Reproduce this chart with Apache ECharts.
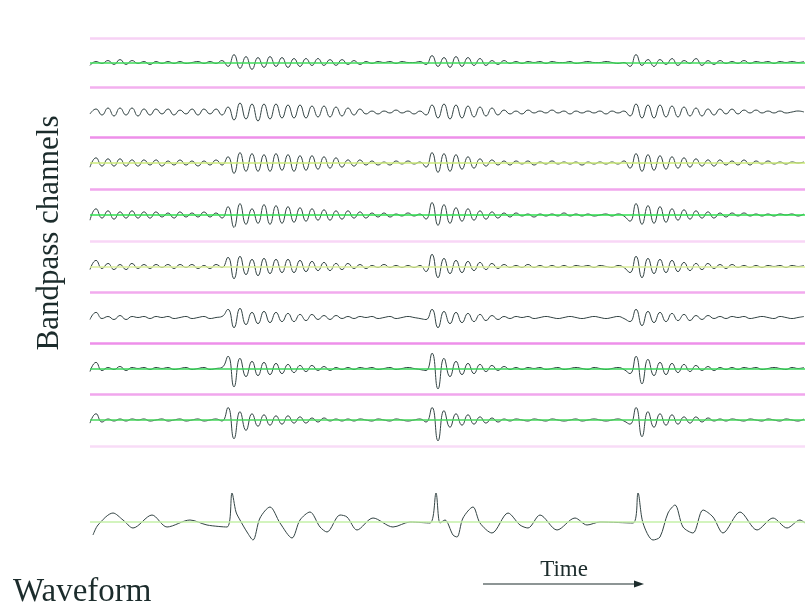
<!DOCTYPE html>
<html><head><meta charset="utf-8">
<script src="https://cdn.jsdelivr.net/npm/echarts@6/dist/echarts.min.js"></script>
<style>html,body{margin:0;padding:0;background:#fff}#c{width:810px;height:615px}</style>
</head><body><div id="c"></div>
<script>
// ---- DATA (amplitudes; channel samples every 1.2 ms) ----
const SAMPLE_MS = 1.2;
const TIME_END_MS = 143;
const ch1 = [-3,1,-1,2,-2,3,-2,2,-1,1,-2,1,-1,1,-1,1,-1,0,1,-1,1,-1,2,
  -4,8,-6,6,-7,5,-5,6,-4,5,-5,4,-4,
  4,-3,4,-3,3,-3,3,-2,2,-2,
  1,-1,1,0,1,-1,1,0,0,1,
  -2,7,-4,5,-5,6,-4,5,-3,4,-3,2,-2,
  2,-1,1,-1,1,0,1,-1,1,0,0,1,-1,0,1,0,0,1,0,-1,0,
  -4,8,-3,3,-4,3,-2,4,-3,2,-1,4,-3,2,-2,2,
  -1,1,-1,2,-1,1,0,1,-1,1,0,1,0,1];
const ch2 = [-2,3,-3,4,-4,4,-3,4,-4,3,-3,3,-2,3,-3,2,-2,3,-3,3,-2,3,-3,
  5,-8,9,-7,8,-9,8,-7,8,-6,7,-6,7,
  -6,6,-5,6,-5,5,-4,4,-3,3,
  -2,1,-2,1,-1,2,-1,1,-2,1,
  -3,7,-6,8,-7,7,-6,6,-5,5,-4,4,-3,
  2,-2,1,-2,2,-1,1,-1,2,-1,1,-2,1,-1,1,-1,1,-2,1,-1,1,
  -4,8,-6,7,-6,7,-5,6,-5,5,-4,4,-4,3,-3,3,
  -2,3,-2,2,-1,2,-1,1,-1,1,-1,0,1,0];
const ch3 = [-4,5,-3,4,-3,4,-3,3,-3,3,-2,3,-3,2,-2,3,-2,2,-3,2,-2,3,-2,
  6,-10,10,-8,9,-8,8,-8,9,-7,8,-8,7,
  -7,7,-6,6,-5,5,-4,3,-3,3,
  -2,2,-2,1,-2,2,-1,2,-1,1,
  -4,10,-9,9,-8,8,-6,6,-5,4,-3,3,-2,
  2,-2,2,-1,2,-2,1,-1,2,-1,1,-1,1,-2,1,-1,1,-1,1,-1,2,
  -5,9,-8,8,-7,7,-6,6,-5,5,-4,4,-3,3,-3,3,
  -2,2,-2,3,-2,2,-1,2,-1,1,-1,1,0,1];
const ch4 = [-5,6,-3,4,-4,3,-3,4,-3,3,-3,3,-2,2,-3,3,-2,2,-2,3,-2,2,-3,
  8,-12,11,-9,6,-8,10,-9,9,-8,8,-7,7,
  -6,6,-5,5,-5,4,-4,4,-3,3,
  -3,2,-2,2,-2,1,-1,2,-1,1,
  -4,12,-10,10,-8,7,-6,6,-5,4,-4,3,-3,
  2,-2,2,-1,1,-2,1,-1,1,-1,2,-1,1,-1,1,-1,0,1,-1,1,-1,
  -6,11,-9,9,-8,8,-7,6,-5,5,-4,4,-3,3,-3,2,
  -2,2,-1,2,-1,1,-1,1,-1,1,0,1,-1,1];
const ch5 = [-3,6,-2,3,-3,2,-3,3,-2,2,-2,2,-1,2,-2,2,-1,2,-2,1,-2,2,-1,
  9,-12,10,-8,7,-9,8,-7,7,-6,7,-6,6,
  -5,5,-4,4,-4,3,-3,3,-2,2,
  -2,1,-1,2,-1,1,-1,1,-1,1,
  -5,12,-11,8,-7,6,-6,5,-4,4,-3,3,-2,
  2,-1,1,-1,2,-1,1,-1,1,-1,1,-1,1,0,1,-1,1,0,-1,1,-1,
  -6,10,-11,8,-7,7,-6,6,-5,4,-4,3,-3,3,-2,2,
  -2,2,-1,1,-1,1,-1,1,0,1,-1,1,0,1];
const ch6 = [-2,5,-1,1,-2,2,-2,1,0,1,-1,1,0,1,-1,0,1,-1,0,1,-1,0,1,
  8,-10,9,-7,5,-6,6,-5,5,-4,4,-4,3,
  -3,3,-2,2,-2,2,-1,1,-1,1,
  0,1,-1,0,1,-1,0,1,0,-1,
  -2,8,-10,6,-6,5,-5,4,-4,3,-3,2,-2,
  1,-1,1,0,1,-1,0,1,0,-1,0,1,0,-1,0,1,0,-1,0,1,-1,
  -4,8,-8,6,-5,5,-4,4,-3,3,-3,2,-2,2,-1,1,
  -1,1,0,1,-1,0,1,0,-1,1,0,-1,0,1];
const ch7 = [-3,6,-2,1,-1,2,-2,1,0,1,-1,1,0,1,-1,0,1,-1,0,1,-1,0,1,
  12,-18,10,-8,7,-7,6,-6,5,-5,4,-4,3,
  -3,3,-2,2,-2,1,-1,1,-1,1,
  0,1,-1,0,1,-1,0,1,0,-1,
  -2,15,-20,10,-8,7,-6,5,-5,4,-3,3,-2,
  2,-1,1,-1,1,0,1,-1,0,1,-1,0,1,0,-1,1,0,-1,0,1,-1,
  -5,12,-15,9,-7,6,-6,5,-4,4,-3,3,-2,2,-2,1,
  -1,1,-1,1,0,1,-1,0,1,0,-1,1,0,1];
const ch8 = [-3,6,-2,1,-1,1,-1,1,0,1,-1,0,1,-1,0,1,-1,0,1,-1,0,1,-1,
  12,-18,8,-10,6,-6,5,-5,4,-4,4,-3,3,
  -3,2,-2,2,-1,1,-1,1,-1,1,
  0,-1,1,0,-1,1,0,-1,0,1,
  -2,12,-20,9,-7,6,-5,5,-4,3,-3,2,-2,
  1,-1,1,0,-1,1,0,-1,1,0,-1,0,1,-1,0,1,0,-1,0,1,-1,
  -4,12,-16,8,-7,6,-5,5,-4,3,-3,3,-2,2,-1,1,
  -1,1,0,-1,1,0,-1,1,0,-1,1,0,-1,1];
// full waveform: time (ms) and amplitude
const waveTimeMs = [0.6,1.6,4.6,6.6,8.6,12.4,15.4,20,23.4,27.4,28.4,29.2,30,31.4,32.6,34,36,38,40.4,42,44,46,47.4,50,51.4,53.4,56.6,60.6,64,68,69.2,70,71,72.6,73.4,74.6,76.6,78,80.4,83.6,86,87.6,90,93.4,97,99.4,102,108.6,109.6,110.6,112.6,114,115.6,117,118.6,120.6,122.6,124.6,126.6,130,133.4,136.6,139.4,142,143];
const waveAmp    = [-13,-3,9,2,-6,7,-5,2,-3,-5,29,10,2,-10,-18,4,15,-1,-16,2,10,-5,-10,7,5,-8,4,-5,0,-1,29,-1,2,-13,-15,4,15,-1,-11,9,-3,-6,7,-8,4,-3,0,-1,29,-1,-18,-15,9,17,-5,-11,12,5,-11,10,-8,4,-6,2,-1];

const channels = [ch1, ch2, ch3, ch4, ch5, ch6, ch7, ch8];

// ---- LAYOUT / STYLE ----
const pinkY = [38, 87, 137, 189, 241, 292, 343, 394, 446];
const pinkColors = ['#f7d2f5','#f3b0ef','#ee8fea','#f1a6ed','#f8d6f6','#f2aaee','#ee8fea','#f1a6ed','#f8dcf7'];
const greenColors = ['#3fdc5a', null, '#cdeb7a', '#2fe04f', '#dcef9a', null, '#3ad65a', '#48d85e'];
const waveColor = '#334444';

const grids = [], xAxes = [], yAxes = [], series = [];
channels.forEach((vals, i) => {
  grids.push({left: 90, right: 5, top: pinkY[i], height: pinkY[i + 1] - pinkY[i]});
  xAxes.push({type: 'value', gridIndex: i, min: 0, max: TIME_END_MS, show: false});
  yAxes.push({type: 'value', gridIndex: i, min: -25, max: 25, show: false});
  const ml = [{yAxis: 25, lineStyle: {color: pinkColors[i], width: 2.5, type: 'solid'}}];
  if (i === channels.length - 1) ml.push({yAxis: -25, lineStyle: {color: pinkColors[i + 1], width: 2.5, type: 'solid'}});
  if (greenColors[i]) ml.push({yAxis: 0, lineStyle: {color: greenColors[i], width: 1.5, type: 'solid'}});
  series.push({
    type: 'line', xAxisIndex: i, yAxisIndex: i,
    data: vals.map((v, k) => [k * SAMPLE_MS, v]),
    showSymbol: false, symbol: 'none', smooth: 0.5, animation: false,
    lineStyle: {color: waveColor, width: 1},
    markLine: {silent: true, symbol: ['none', 'none'], label: {show: false}, animation: false, data: ml}
  });
});
const wi = channels.length;
grids.push({left: 90, right: 5, top: 472, height: 100});
xAxes.push({type: 'value', gridIndex: wi, min: 0, max: TIME_END_MS, show: false});
yAxes.push({type: 'value', gridIndex: wi, min: -50, max: 50, show: false});
series.push({
  type: 'line', xAxisIndex: wi, yAxisIndex: wi,
  data: waveTimeMs.map((t, k) => [t, waveAmp[k]]),
  showSymbol: false, symbol: 'none', smooth: 0.3, animation: false,
  lineStyle: {color: waveColor, width: 1},
  markLine: {silent: true, symbol: ['none', 'none'], label: {show: false}, animation: false,
    data: [{yAxis: 0, lineStyle: {color: '#c4f0a8', width: 1.5, type: 'solid'}}]}
});

const serif = '"Liberation Serif", "DejaVu Serif", serif';
const chart = echarts.init(document.getElementById('c'), null, {renderer: 'canvas'});
chart.setOption({
  backgroundColor: '#ffffff',
  animation: false,
  grid: grids, xAxis: xAxes, yAxis: yAxes, series: series,
  graphic: [
    {type: 'text', x: 50, y: 233, rotation: Math.PI / 2,
      style: {text: 'Bandpass channels', font: '31px ' + serif, fill: '#1c2c2c', align: 'center', verticalAlign: 'middle'}},
    {type: 'text', x: 13, y: 592,
      style: {text: 'Waveform', font: '33px ' + serif, fill: '#1c2c2c', align: 'left', verticalAlign: 'middle'}},
    {type: 'text', x: 564, y: 570,
      style: {text: 'Time', font: '23px ' + serif, fill: '#1c2c2c', align: 'center', verticalAlign: 'middle'}},
    {type: 'line', shape: {x1: 483, y1: 584, x2: 636, y2: 584}, style: {stroke: '#1c2c2c', lineWidth: 1.2}},
    {type: 'polygon', shape: {points: [[644, 584], [634, 580.5], [634, 587.5]]}, style: {fill: '#1c2c2c'}}
  ]
});
</script></body></html>
